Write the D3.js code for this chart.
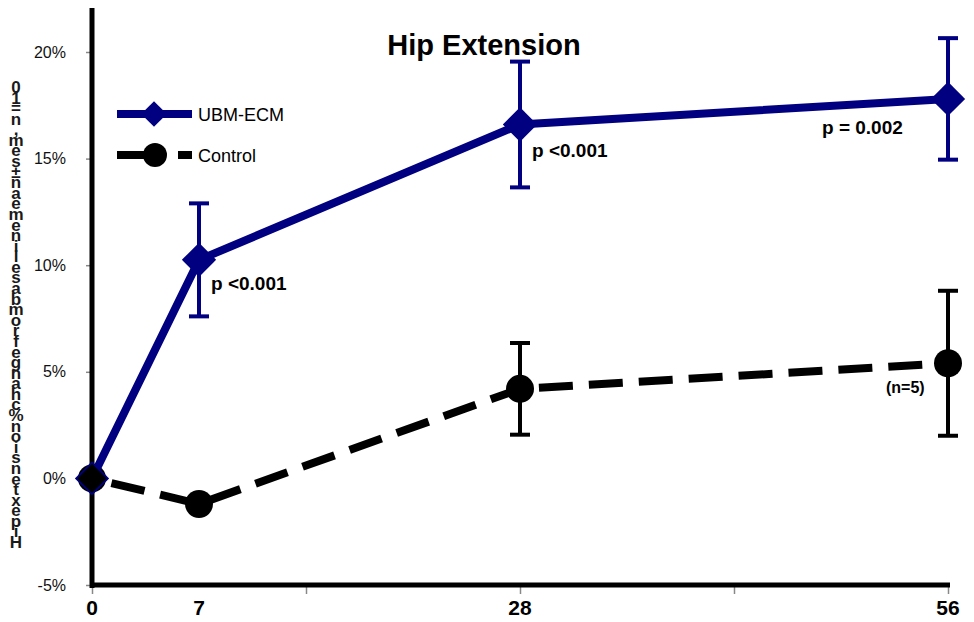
<!DOCTYPE html>
<html lang="en">
<head>
<meta charset="UTF-8">
<title>Hip Extension</title>
<script src="https://cdnjs.cloudflare.com/ajax/libs/d3/7.8.5/d3.min.js"></script>
<style>
  body { margin: 0; background: #fff; }
  svg { display: block; font-family: "Liberation Sans", Arial, sans-serif; }
</style>
</head>
<body>
<svg width="974" height="622"></svg>
<script>
    // data (days after treatment, % change)
    const days = [0, 7, 28, 56];
    const ubmMean = [0, 10.25, 16.6, 17.8];
    const ubmErr = [0, 2.65, 2.95, 2.85];
    const ctrlMean = [0, -1.2, 4.2, 5.4];
    const ctrlErr = [0, 0, 2.15, 3.4];
    const yTicks = [-5, 0, 5, 10, 15, 20];
    const xTickMarks = [0, 14, 28, 42, 56];
    const xTickLabels = [0, 7, 28, 56];
    const pLabels = [
        { day: 7, value: 10.25, text: "p <0.001", dx: 12, dy: 30 },
        { day: 28, value: 16.6, text: "p <0.001", dx: 12, dy: 33 },
        { day: 56, value: 17.8, text: "p = 0.002", dx: -126, dy: 35 }
    ];
    const yLabel = "Hip extension % change from baseline mean \u00b1 sem, n=10";

    const svg = d3.select("svg");
    const x = d3.scaleLinear().domain([0, 56]).range([92, 948]);
    const y = d3.scaleLinear().domain([-5, 20]).range([585, 52]);
    const navy = "#000080";

    // axes
    const yAxis = svg.append("g").attr("transform", "translate(92,0)")
        .call(d3.axisLeft(y).tickValues(yTicks).tickSize(6).tickFormat(d => d + "%"));
    yAxis.select(".domain").remove();
    yAxis.selectAll(".tick line").attr("stroke", "#888").attr("stroke-width", 1.5);
    yAxis.selectAll(".tick text").attr("x", -26).attr("font-size", 16).attr("fill", "#111");

    const xAxis = svg.append("g").attr("transform", "translate(0,585)")
        .call(d3.axisBottom(x).tickValues(xTickMarks).tickSize(9).tickFormat(""));
    xAxis.select(".domain").remove();
    xAxis.selectAll(".tick line").attr("stroke", "#888").attr("stroke-width", 1.5);

    svg.append("g").selectAll("text").data(xTickLabels).join("text")
        .attr("x", d => x(d)).attr("y", 615)
        .attr("text-anchor", "middle").attr("font-size", 21).attr("font-weight", "bold")
        .text(d => d);

    svg.append("line").attr("x1", 92).attr("x2", 92).attr("y1", 8).attr("y2", 588)
        .attr("stroke", "#000").attr("stroke-width", 5);
    svg.append("line").attr("x1", 90).attr("x2", 950).attr("y1", 585).attr("y2", 585)
        .attr("stroke", "#000").attr("stroke-width", 5);

    // y label: characters stacked bottom to top
    const chars = yLabel.split("").filter(c => c !== " ");
    const step = 455 / (chars.length - 1);
    svg.append("g").selectAll("text").data(chars).join("text")
        .attr("x", 16).attr("y", (d, i) => 548 - i * step)
        .attr("text-anchor", "middle").attr("font-size", 17).attr("font-weight", "bold")
        .attr("fill", "#1a1a1a")
        .text(d => d);

    // title
    svg.append("text").attr("x", 484).attr("y", 55).attr("text-anchor", "middle")
        .attr("font-size", 29).attr("font-weight", "bold").text("Hip Extension");

    const line = d3.line().x(d => x(d[0])).y(d => y(d[1]));
    const ctrlPts = days.map((d, i) => [d, ctrlMean[i], ctrlErr[i]]);
    const ubmPts = days.map((d, i) => [d, ubmMean[i], ubmErr[i]]);

    // control series
    svg.append("path").datum(ctrlPts).attr("d", line)
        .attr("fill", "none").attr("stroke", "#000").attr("stroke-width", 8)
        .attr("stroke-dasharray", "34,16").attr("stroke-dashoffset", -20);
    const ctrlErrPts = ctrlPts.filter(d => d[2] > 0);
    const ce = svg.append("g").selectAll("g").data(ctrlErrPts).join("g");
    ce.append("line").attr("x1", d => x(d[0])).attr("x2", d => x(d[0]))
        .attr("y1", d => y(d[1] + d[2])).attr("y2", d => y(d[1] - d[2]))
        .attr("stroke", "#000").attr("stroke-width", 4);
    ce.append("line").attr("x1", d => x(d[0]) - 10).attr("x2", d => x(d[0]) + 10)
        .attr("y1", d => y(d[1] + d[2])).attr("y2", d => y(d[1] + d[2]))
        .attr("stroke", "#000").attr("stroke-width", 4);
    ce.append("line").attr("x1", d => x(d[0]) - 10).attr("x2", d => x(d[0]) + 10)
        .attr("y1", d => y(d[1] - d[2])).attr("y2", d => y(d[1] - d[2]))
        .attr("stroke", "#000").attr("stroke-width", 4);
    svg.append("g").selectAll("circle").data(ctrlPts).join("circle")
        .attr("cx", d => x(d[0])).attr("cy", d => y(d[1])).attr("r", 14).attr("fill", "#000");

    // UBM-ECM series
    svg.append("path").datum(ubmPts).attr("d", line)
        .attr("fill", "none").attr("stroke", navy).attr("stroke-width", 8);
    const ue = svg.append("g").selectAll("g").data(ubmPts.filter(d => d[2] > 0)).join("g");
    ue.append("line").attr("x1", d => x(d[0])).attr("x2", d => x(d[0]))
        .attr("y1", d => y(d[1] + d[2])).attr("y2", d => y(d[1] - d[2]))
        .attr("stroke", navy).attr("stroke-width", 4);
    ue.append("line").attr("x1", d => x(d[0]) - 10).attr("x2", d => x(d[0]) + 10)
        .attr("y1", d => y(d[1] + d[2])).attr("y2", d => y(d[1] + d[2]))
        .attr("stroke", navy).attr("stroke-width", 4);
    ue.append("line").attr("x1", d => x(d[0]) - 10).attr("x2", d => x(d[0]) + 10)
        .attr("y1", d => y(d[1] - d[2])).attr("y2", d => y(d[1] - d[2]))
        .attr("stroke", navy).attr("stroke-width", 4);
    const diamond = d3.symbol().type(d3.symbolDiamond2).size(750);
    svg.append("g").selectAll("path").data(ubmPts).join("path")
        .attr("d", diamond)
        .attr("transform", d => `translate(${x(d[0])},${y(d[1])})`)
        .attr("fill", navy);
    // the zero point is drawn as a black diamond over both series
    svg.append("path").attr("d", diamond)
        .attr("transform", `translate(${x(0)},${y(0)}) scale(0.85)`)
        .attr("fill", "#000");

    // annotations
    svg.append("g").selectAll("text").data(pLabels).join("text")
        .attr("x", d => x(d.day) + d.dx).attr("y", d => y(d.value) + d.dy)
        .attr("font-size", 19).attr("font-weight", "bold").text(d => d.text);
    svg.append("text").attr("x", x(56) - 62).attr("y", y(5.4) + 30)
        .attr("font-size", 16).attr("font-weight", "bold").text("(n=5)");

    // legend
    const lg = svg.append("g");
    lg.append("line").attr("x1", 117).attr("x2", 192).attr("y1", 114).attr("y2", 114)
        .attr("stroke", navy).attr("stroke-width", 8);
    lg.append("path").attr("d", d3.symbol().type(d3.symbolDiamond2).size(420))
        .attr("transform", "translate(154,114)").attr("fill", navy);
    lg.append("text").attr("x", 198).attr("y", 121).attr("font-size", 18).text("UBM-ECM");
    lg.append("line").attr("x1", 117).attr("x2", 160).attr("y1", 155).attr("y2", 155)
        .attr("stroke", "#000").attr("stroke-width", 8);
    lg.append("line").attr("x1", 178).attr("x2", 192).attr("y1", 155).attr("y2", 155)
        .attr("stroke", "#000").attr("stroke-width", 8);
    lg.append("circle").attr("cx", 155).attr("cy", 155).attr("r", 12).attr("fill", "#000");
    lg.append("text").attr("x", 198).attr("y", 162).attr("font-size", 18).text("Control");
</script>
</body>
</html>
